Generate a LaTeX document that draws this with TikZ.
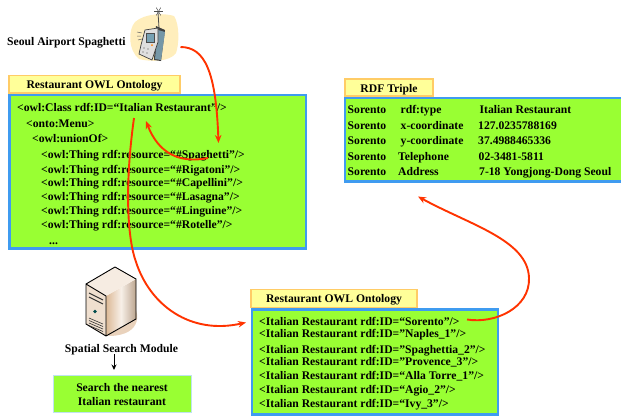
\documentclass[tikz,border=0pt]{standalone}
\usepackage{fontspec}
\setmainfont{Liberation Serif}[Ligatures=ResetAll]
\usetikzlibrary{arrows.meta}
\definecolor{boxgreen}{HTML}{99FF33}
\definecolor{boxblue}{HTML}{3F9BF0}
\definecolor{titlefill}{HTML}{FFFF99}
\definecolor{titleedge}{HTML}{FFCC66}
\definecolor{linkred}{HTML}{FF3300}
\definecolor{paleblue}{HTML}{BFE3EE}
\tikzset{
  x=1pt,y=-1pt,
  panel/.style={draw=boxblue,line width=2.6pt,fill=boxgreen},
  titlebox/.style={draw=titleedge,line width=1.6pt,fill=titlefill},
  txt/.style={inner sep=0pt,anchor=base west,font=\bfseries\fontsize{11.65}{13}\selectfont,text=black},
  ctr/.style={inner sep=0pt,anchor=base,font=\bfseries\fontsize{11.65}{13}\selectfont,text=black},
  link/.style={draw=linkred,line width=1.9pt,-{Stealth[length=8pt,width=6.5pt]}},
  plainarrow/.style={draw=black,line width=1pt,-{Stealth[length=5.5pt,width=5pt]}},
}
\begin{document}
\begin{tikzpicture}
\useasboundingbox (0,0) rectangle (621,416);
% panels
\draw[titlebox] (9,75.5) rectangle (180,93);
\draw[panel] (9.5,95) rectangle (306,248.5);
\draw[titlebox] (345,79) rectangle (433,96);
\draw[panel] (345,98) rectangle (622,181.5);
\draw[titlebox] (251,289.5) rectangle (417,307.5);
\draw[panel] (252,309.5) rectangle (498,414.5);
\draw[draw=paleblue,line width=1pt,fill=boxgreen] (53,375.5) rectangle (191,412.5);
% phone illustration
\fill[titlefill!70!orange!45] (135,22) .. controls (145,13) and (165,13) .. (174,16)
  .. controls (180,25) and (179,45) .. (176,53) .. controls (170,62) and (150,62) .. (139,59)
  .. controls (128,50) and (128,30) .. (135,22) -- cycle;
\draw[line width=.8pt,black!70] (159,28) -- (158,12);
\foreach \a in {0,60,...,300}{\draw[line width=.5pt,black!70] (158.5,11.5) -- ++(\a:4.5);}
\fill[black!75] (156,26) -- (165,30) -- (161,61) -- (154,60) -- cycle;
\fill[cyan!45!black!70] (158,30) -- (165,32) -- (161,60) -- (155,59) -- cycle;
\filldraw[draw=black!75,line width=.7pt,fill=gray!25] (145,30) -- (158,28) -- (158,42) -- (152,60) -- (139,54) -- (141,45) -- cycle;
\filldraw[draw=black!70,fill=cyan!35!gray] (146,33) rectangle (154,42);
\fill[orange] (152,45) circle (1pt);
\foreach \p/\q in {144/48,148/49,143/52,147/53}{\fill[black!70] (\p,\q) circle (.7pt);}
\draw[black!60,line width=.5pt] (137,32)--(142,33) (137,36)--(141,36) (138,40)--(142,39);
% server illustration
\fill[brown!35!white] (125,293) .. controls (144,312) and (142,335) .. (110,336) -- (95,330) -- cycle;
\shade[left color=brown!55!white,right color=brown!50!gray!70,middle color=brown!12!white] (106,296) -- (136,279) -- (136,319) -- (106,336) -- cycle;
\fill[brown!15!white] (86,284) -- (115,267) -- (136,279) -- (106,296) -- cycle;
\fill[brown!25!white] (86,284) -- (106,296) -- (106,336) -- (86,324) -- cycle;
\draw[line width=.9pt,black,line join=round] (86,284) -- (115,267) -- (136,279) -- (136,319) -- (106,336) -- (86,324) -- cycle
  (86,284) -- (106,296) -- (106,336);
\draw[line width=1pt,black!80] (89,293)--(103,300) (89,297)--(103,304);
\fill[teal!60!black] (95,311.5) circle (1.8pt);
\foreach \i in {0,2.5,5,7.5}{\draw[line width=.6pt,black!80] (89,318+\i)--(103,324+\i);}
% texts
\node[txt] (caller) at (7,45) {Seoul Airport Spaghetti};
\node[ctr] (t1) at (94.5,88) {Restaurant OWL Ontology};
\node[txt] (a1) at (17,111) {<owl:Class rdf:ID=“Italian Restaurant”/>};
\node[txt] (a2) at (26,127) {<onto:Menu>};
\node[txt] (a3) at (32,142) {<owl:unionOf>};
\node[txt] (a4) at (41,158) {<owl:Thing rdf:resource=“\#Spaghetti”/>};
\node[txt] (a5) at (41,173) {<owl:Thing rdf:resource=“\#Rigatoni”/>};
\node[txt] (a6) at (41,186) {<owl:Thing rdf:resource=“\#Capellini”/>};
\node[txt] (a7) at (41,200) {<owl:Thing rdf:resource=“\#Lasagna”/>};
\node[txt] (a8) at (41,214) {<owl:Thing rdf:resource=“\#Linguine”/>};
\node[txt] (a9) at (41,228) {<owl:Thing rdf:resource=“\#Rotelle”/>};
\node[txt] (a10) at (49,244) {...};
\node[ctr] (t2) at (389,92) {RDF Triple};
\foreach \n/\y in {1/113,2/129,3/144,4/160,5/175}{\node[txt] (s\n) at (347.5,\y) {Sorento};}
\node[txt] (p1) at (400.5,113) {rdf:type};
\node[txt] (p2) at (400.5,129) {x-coordinate};
\node[txt] (p3) at (400.5,144) {y-coordinate};
\node[txt] (p4) at (398,160) {Telephone};
\node[txt] (p5) at (398,175) {Address};
\node[txt] (o1) at (479.5,113) {Italian Restaurant};
\node[txt] (o2) at (478,129) {127.0235788169};
\node[txt] (o3) at (478,144) {37.4988465336};
\node[txt] (o4) at (478.5,160) {02-3481-5811};
\node[txt] (o5) at (479,175) {7-18 Yongjong-Dong Seoul};
\node[ctr] (t3) at (334,302) {Restaurant OWL Ontology};
\node[txt] (b1) at (259,325) {<Italian Restaurant rdf:ID=“Sorento”/>};
\node[txt] (b2) at (259,337.5) {<Italian Restaurant rdf:ID="Naples\_1"/>};
\node[txt] (b3) at (259,353) {<Italian Restaurant rdf:ID="Spaghettia\_2"/>};
\node[txt] (b4) at (259,365.5) {<Italian Restaurant rdf:ID="Provence\_3"/>};
\node[txt] (b5) at (259,379) {<Italian Restaurant rdf:ID=“Alla Torre\_1"/>};
\node[txt] (b6) at (259,393) {<Italian Restaurant rdf:ID=“Agio\_2"/>};
\node[txt] (b7) at (259,407) {<Italian Restaurant rdf:ID=“Ivy\_3"/>};
\node[ctr] (m) at (121.5,352) {Spatial Search Module};
\node[ctr] (r1) at (122,391) {Search the nearest};
\node[ctr] (r2) at (122,405) {Italian restaurant};
% connector ends
\coordinate (phoneout) at (180.5,47);
\coordinate (spagin) at (218.5,143);
\coordinate (spagout) at (208,158);
\coordinate (classin) at (146,121);
\coordinate (classout) at (134,118);
\coordinate (listin) at (246,322.5);
\coordinate (soroout) at (467,319.5);
\coordinate (triplein) at (418,196.5);
\coordinate (modout) at (114,354);
\coordinate (resin) at (114,370);
% connectors
\draw[link] (phoneout) .. controls (205,47) and (216,72) .. (spagin);
\draw[link] (spagout) .. controls (178,164) and (158,152) .. (classin);
\draw[link] (classout) .. controls (124,190) and (128,240) .. (136,262)
  .. controls (150,305) and (190,335) .. (listin);
\draw[link] (soroout) .. controls (495,324) and (530,308) .. (529,278)
  .. controls (528,240) and (470,225) .. (triplein);
\draw[plainarrow] (modout) -- (resin);
\end{tikzpicture}
\end{document}
